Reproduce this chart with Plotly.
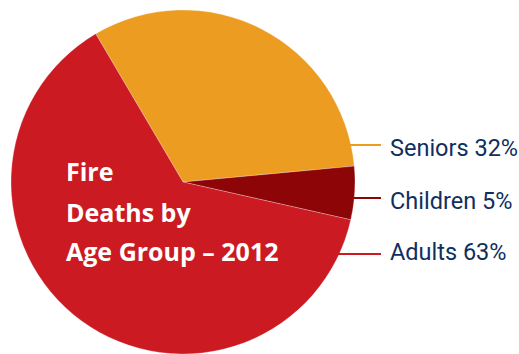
import math
import plotly.graph_objects as go

# Fire deaths by age group, 2012 (share of total, %)
groups = ["Seniors", "Children", "Adults"]
shares = [32, 5, 63]
slice_colors = ["#EC9D21", "#8E0508", "#CC1A23"]
title_lines = ["Fire", "Deaths by", "Age Group \u2013 2012"]

W, H = 519, 354
# pie placement in pixels
cx, cy, r = 183, 182, 172
rotation = -30.5

fig = go.Figure(go.Pie(
    labels=groups,
    values=shares,
    sort=False,
    direction="clockwise",
    rotation=rotation,
    marker=dict(colors=slice_colors, line=dict(color="rgba(255,255,255,0.45)", width=0.6)),
    textinfo="none",
    hoverinfo="label+percent",
    showlegend=False,
    domain=dict(x=[(cx - r) / W, (cx + r) / W], y=[0, 1 - (cy - r) / H]),
))

def px(x):
    return x / W

def py(y):
    return 1 - y / H

# leader lines and labels to the right of the pie
label_rows = [145, 198, 254]
text_rows = [147.5, 200.5, 252.5]
line_end = 381
for name, val, col, ly, ty in zip(groups, shares, slice_colors, label_rows, text_rows):
    x0 = cx + math.sqrt(max(r * r - (ly - cy) ** 2, 0)) - 3
    fig.add_shape(type="line", xref="paper", yref="paper",
                  x0=px(x0), x1=px(line_end), y0=py(ly), y1=py(ly),
                  line=dict(color=col, width=2))
    fig.add_annotation(x=px(387.5), y=py(ty), xref="paper", yref="paper",
                       xanchor="left", yanchor="middle", showarrow=False,
                       text=f"{name} {val}%",
                       font=dict(family="Roboto", size=23.5, color="#0F2F5F"))

# title inside the large slice
title_rows = [171, 212, 251]
for line, ty in zip(title_lines, title_rows):
    fig.add_annotation(x=px(64), y=py(ty), xref="paper", yref="paper",
                       xanchor="left", yanchor="middle", showarrow=False,
                       text=f"<b>{line}</b>",
                       font=dict(family="Open Sans", size=25, color="white"))

fig.update_layout(
    width=W, height=H,
    margin=dict(l=0, r=0, t=0, b=0),
    paper_bgcolor="white",
    plot_bgcolor="white",
)

fig.write_html("out.html")
